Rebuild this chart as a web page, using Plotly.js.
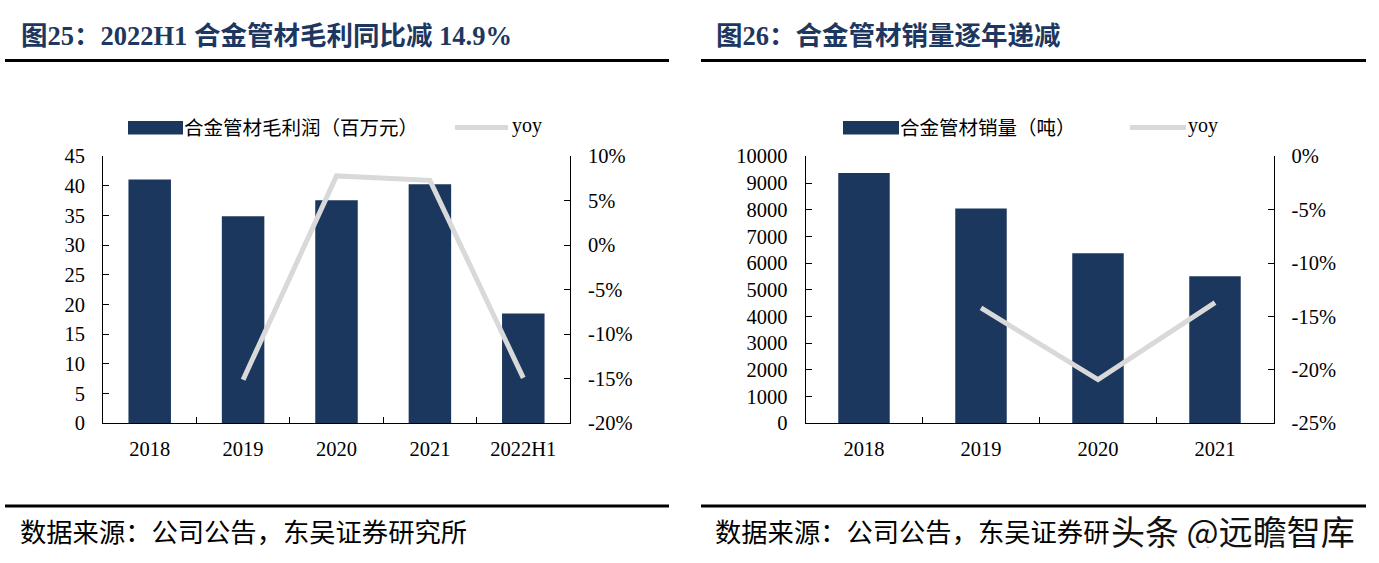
<!DOCTYPE html>
<html>
<head>
<meta charset="utf-8">
<script src="https://cdn.plot.ly/plotly-3.0.1.min.js"></script>
<style>html,body{margin:0;padding:0;background:#fff;}#chart{width:1379px;height:563px;}</style>
</head>
<body>
<div id="chart"></div>
<script>
// ---- Data ----
const titleLeft = "图25：2022H1 合金管材毛利同比减 14.9%";
const titleRight = "图26：合金管材销量逐年递减";
const sourceText = "数据来源：公司公告，东吴证券研究所";
const watermarkText = "头条 @远瞻智库";

const profitCategories = ["2018", "2019", "2020", "2021", "2022H1"];
const profitValues = [41.1, 34.9, 37.6, 40.3, 18.5];       // 百万元
const profitYoy = [null, -15.1, 7.8, 7.3, -14.9];           // %
const profitBarName = "合金管材毛利润（百万元）";

const salesCategories = ["2018", "2019", "2020", "2021"];
const salesValues = [9370, 8045, 6370, 5510];               // 吨
const salesYoy = [null, -14.2, -20.9, -13.7];               // %
const salesBarName = "合金管材销量（吨）";
const yoyName = "yoy";

const profitTickVals = [0, 5, 10, 15, 20, 25, 30, 35, 40, 45];
const profitYoyTickVals = [-20, -15, -10, -5, 0, 5, 10];
const profitYoyTickText = ["-20%", "-15%", "-10%", "-5%", "0%", "5%", "10%"];
const salesTickVals = [0, 1000, 2000, 3000, 4000, 5000, 6000, 7000, 8000, 9000, 10000];
const salesTickText = ["0", "1000", "2000", "3000", "4000", "5000", "6000", "7000", "8000", "9000", "10000"];
const salesYoyTickVals = [-25, -20, -15, -10, -5, 0];
const salesYoyTickText = ["-25%", "-20%", "-15%", "-10%", "-5%", "0%"];

// ---- Styling ----
const W = 1379, H = 563;
const px = x => x / W;
const py = y => 1 - y / H;
const NAVY = "#1c375e";
const GRAY = "#d9d9d9";
const TITLE_COLOR = "#1d3760";
const SERIF = "Liberation Serif, 'Times New Roman', 'Noto Sans CJK SC', serif";
const CJK = "'Noto Sans CJK SC', 'Liberation Serif', sans-serif";
const tickFont = {family: SERIF, size: 20.5, color: "#000"};

const traces = [
  {type: "bar", x: profitCategories, y: profitValues, name: profitBarName,
   xaxis: "x", yaxis: "y", marker: {color: NAVY}, width: 0.455, hoverinfo: "skip"},
  {type: "scatter", mode: "lines", x: profitCategories, y: profitYoy, name: yoyName,
   xaxis: "x", yaxis: "y2", line: {color: GRAY, width: 5}, hoverinfo: "skip"},
  {type: "bar", x: salesCategories, y: salesValues, name: salesBarName,
   xaxis: "x2", yaxis: "y3", marker: {color: NAVY}, width: 0.44, hoverinfo: "skip"},
  {type: "scatter", mode: "lines", x: salesCategories, y: salesYoy, name: yoyName,
   xaxis: "x2", yaxis: "y4", line: {color: GRAY, width: 5}, hoverinfo: "skip"}
];

const xCommon = {type: "category", showline: true, linecolor: "#000", linewidth: 1,
  ticks: "inside", tickson: "boundaries", ticklen: 6, tickcolor: "#000", tickwidth: 1,
  tickfont: tickFont, ticklabelstandoff: 7, showgrid: false, zeroline: false, fixedrange: true};
const yCommon = {showline: true, linecolor: "#000", linewidth: 1, ticks: "inside",
  ticklen: 6, tickcolor: "#000", tickwidth: 1, tickfont: tickFont, showgrid: false,
  zeroline: false, fixedrange: true, ticklabelstandoff: 13};

const dL = [px(103), px(570)];
const dR = [px(805.5), px(1273.5)];
const dY = [py(423.3), py(156.3)];

const shapes = [
  // header rules
  {type: "line", xref: "paper", yref: "paper", x0: px(5), x1: px(669), y0: py(60.5), y1: py(60.5), line: {color: "#000", width: 3}},
  {type: "line", xref: "paper", yref: "paper", x0: px(701), x1: px(1366), y0: py(60.5), y1: py(60.5), line: {color: "#000", width: 3}},
  // footer rules
  {type: "line", xref: "paper", yref: "paper", x0: px(5), x1: px(669), y0: py(506), y1: py(506), line: {color: "#000", width: 3}},
  {type: "line", xref: "paper", yref: "paper", x0: px(701), x1: px(1366), y0: py(506), y1: py(506), line: {color: "#000", width: 3}},
  // legend swatches
  {type: "rect", xref: "paper", yref: "paper", x0: px(128), x1: px(183), y0: py(134.5), y1: py(121), fillcolor: NAVY, line: {width: 0}},
  {type: "line", xref: "paper", yref: "paper", x0: px(455), x1: px(508), y0: py(127.5), y1: py(127.5), line: {color: GRAY, width: 5}},
  {type: "rect", xref: "paper", yref: "paper", x0: px(843), x1: px(899), y0: py(134.5), y1: py(121), fillcolor: NAVY, line: {width: 0}},
  {type: "line", xref: "paper", yref: "paper", x0: px(1130), x1: px(1186), y0: py(127.5), y1: py(127.5), line: {color: GRAY, width: 5}}
];

const ann = (text, x, y, font, extra) => Object.assign({text, x: px(x), y: py(y), xref: "paper", yref: "paper",
  xanchor: "left", yanchor: "middle", showarrow: false, font}, extra || {});

const annotations = [
  ann(titleLeft, 19, 36, {family: SERIF, size: 26.5, color: TITLE_COLOR, weight: "bold"}),
  ann(titleRight, 714, 36, {family: SERIF, size: 26.5, color: TITLE_COLOR, weight: "bold"}),
  ann(profitBarName, 182, 127, {family: CJK, size: 19.5, color: "#000"}),
  ann(yoyName, 510, 126, {family: SERIF, size: 20, color: "#000"}),
  ann(salesBarName, 898, 127, {family: CJK, size: 19.5, color: "#000"}),
  ann(yoyName, 1186, 126, {family: SERIF, size: 20, color: "#000"}),
  ann(sourceText, 18, 530, {family: CJK, size: 26.3, color: "#000"}),
  ann(sourceText, 713, 530, {family: CJK, size: 26.3, color: "#000"}),
  ann(watermarkText, 1110, 530, {family: CJK, size: 34, color: "#111"},
      {bgcolor: "#ffffff", borderpad: 0, height: 36, valign: "middle"})
];

const layout = {
  width: W, height: H, autosize: false,
  margin: {l: 0, r: 0, t: 0, b: 0, pad: 0},
  paper_bgcolor: "#fff", plot_bgcolor: "rgba(0,0,0,0)",
  showlegend: false, bargap: 0.5,
  xaxis: Object.assign({}, xCommon, {domain: dL, anchor: "y"}),
  yaxis: Object.assign({}, yCommon, {domain: dY, anchor: "x", range: [0, 45], tickvals: profitTickVals}),
  yaxis2: Object.assign({}, yCommon, {overlaying: "y", side: "right", anchor: "x", range: [-20, 10],
    tickvals: profitYoyTickVals, ticktext: profitYoyTickText}),
  xaxis2: Object.assign({}, xCommon, {domain: dR, anchor: "y3"}),
  yaxis3: Object.assign({}, yCommon, {domain: dY, anchor: "x2", range: [0, 10000],
    tickvals: salesTickVals, ticktext: salesTickText}),
  yaxis4: Object.assign({}, yCommon, {overlaying: "y3", side: "right", anchor: "x2", range: [-25, 0],
    tickvals: salesYoyTickVals, ticktext: salesYoyTickText}),
  shapes, annotations
};

Plotly.newPlot("chart", traces, layout, {displayModeBar: false, staticPlot: true});
</script>
</body>
</html>
